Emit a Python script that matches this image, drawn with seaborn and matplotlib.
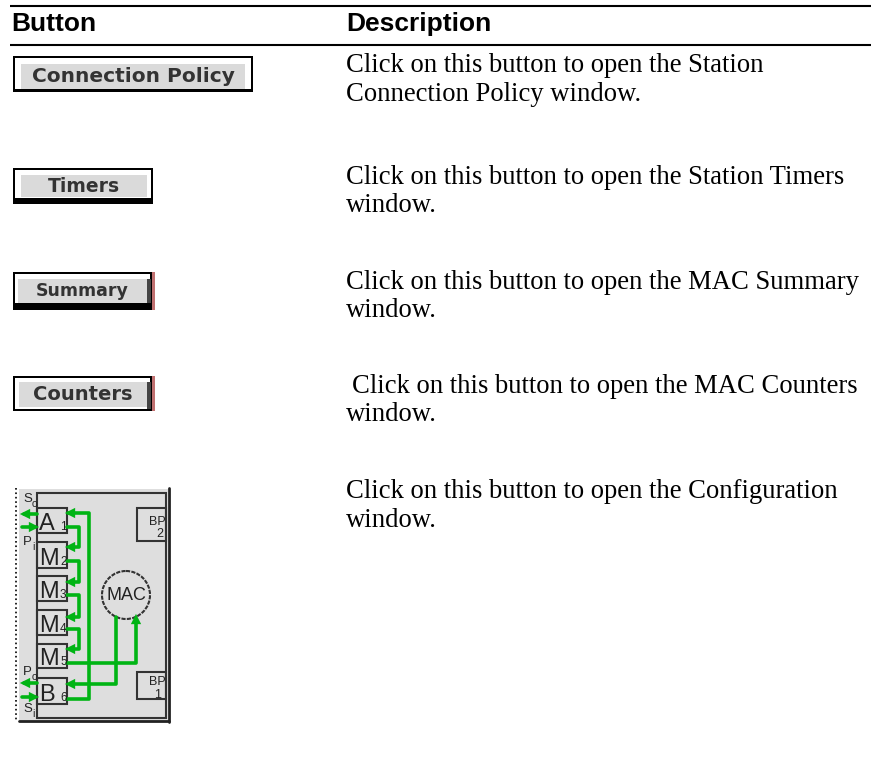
import matplotlib
matplotlib.use('Agg')
import pandas as pd
import matplotlib.pyplot as plt
import seaborn as sns
from matplotlib.patches import Rectangle, Circle

sns.set_theme(style='white')

header_names = ['Button', 'Description']
header_x = [11, 346]
rule_y = [6, 45]

desc_lines = ['Click on this button to open the Station', 'Connection Policy window.',
              'Click on this button to open the Station Timers', 'window.',
              'Click on this button to open the MAC Summary', 'window.',
              'Click on this button to open the MAC Counters', 'window.',
              'Click on this button to open the Configuration', 'window.']
desc_x = [346, 346, 346, 346, 346, 346, 352, 346, 346, 346]
desc_y = [72, 101, 184, 212, 289, 317, 393, 421, 498, 527]

btn_labels = ['Connection Policy', 'Timers', 'Summary', 'Counters']
btn_left = [13, 13, 13, 13]
btn_right = [253, 153, 152, 152]
btn_top = [56, 168, 272, 376]
btn_bottom = [92, 204, 310, 411]
btn_font = [14.5, 13.5, 12.5, 14]
btn_edge = [89, 198, 303, 409]
gray_left = [21, 21, 18, 19]
gray_right = [245, 147, 147, 147]
gray_top = [64, 175, 279, 382]
gray_bottom = [89, 197, 303, 407]
btn_red = [False, False, True, True]

box_names = ['A', 'M', 'M', 'M', 'M', 'B']
box_subs = ['1', '2', '3', '4', '5', '6']
box_top = [508, 542, 576, 610, 644, 678]
box_bottom = [533, 568, 601, 635, 668, 704]

# green wires of the diagram, one list per wire
wire_a = [(68, 513), (89, 513), (89, 699), (67, 699)]
wire_b = [(67, 527), (79, 527), (79, 547), (70, 547)]
wire_c = [(67, 561), (79, 561), (79, 582), (70, 582)]
wire_d = [(67, 595), (79, 595), (79, 617), (70, 617)]
wire_e = [(67, 629), (79, 629), (79, 649), (70, 649)]
wire_f = [(67, 663), (136, 663), (136, 620)]
wire_g = [(116, 617), (116, 684), (70, 684)]
wire_h = [(37, 514), (24, 514)]
wire_i = [(22, 527), (35, 527)]
wire_j = [(37, 683), (24, 683)]
wire_k = [(22, 697), (35, 697)]
wires = [wire_a, wire_b, wire_c, wire_d, wire_e, wire_f, wire_g, wire_h, wire_i, wire_j, wire_k]

head_x = [70, 70, 70, 70, 70, 136, 70, 25, 34, 25, 34]
head_y = [513, 547, 582, 617, 649, 619, 684, 514, 527, 683, 697]
head_dir = ['l', 'l', 'l', 'l', 'l', 'u', 'l', 'l', 'r', 'l', 'r']

port_names = ['S', 'P', 'P', 'S']
port_subs = ['o', 'i', 'o', 'i']
port_y = [502, 545, 675, 712]

green = '#00b414'
sans = 'Liberation Sans'

fig, ax = plt.subplots(figsize=(8.71, 7.74), dpi=100)
fig.subplots_adjust(0, 0, 1, 1)
ax.set_xlim(0, 871)
ax.set_ylim(774, 0)
ax.axis('off')

for y in rule_y:
    ax.plot([10, 871], [y, y], color='black', lw=1.5, solid_capstyle='butt')
for name, x in zip(header_names, header_x):
    ax.text(x, 31, name, family=sans, weight='bold', fontsize=19, color='black')
for line, x, y in zip(desc_lines, desc_x, desc_y):
    ax.text(x, y, line, family='Liberation Serif', fontsize=19.2, color='black')

# buttons
for i, label in enumerate(btn_labels):
    l, r, t, b = btn_left[i], btn_right[i], btn_top[i], btn_bottom[i]
    ax.add_patch(Rectangle((l, t), r - l, b - t, fc='black', ec='none'))
    ax.add_patch(Rectangle((l + 2, t + 2), r - l - 4, btn_edge[i] - t - 2, fc='white', ec='none'))
    ax.add_patch(Rectangle((gray_left[i], gray_top[i]), gray_right[i] - gray_left[i],
                           gray_bottom[i] - gray_top[i], fc='#dadada', ec='none'))
    if btn_red[i]:
        ax.add_patch(Rectangle((gray_right[i], gray_top[i]), 4, btn_edge[i] - gray_top[i], fc='#444444', ec='none'))
        ax.add_patch(Rectangle((r, t), 3, b - t, fc='#c07070', ec='none'))
    ax.text((gray_left[i] + gray_right[i]) / 2, (gray_top[i] + gray_bottom[i]) / 2, label,
            family='DejaVu Sans', weight='bold', fontsize=btn_font[i], color='#333333',
            ha='center', va='center')

# configuration diagram
ax.add_patch(Rectangle((19, 489), 149, 232, fc='#dedede', ec='none'))
ax.plot([16, 16], [488, 722], color='black', lw=1.2, ls=':')
ax.plot([168.5, 168.5], [488, 722], color='#222222', lw=2)
ax.plot([19, 169], [721, 721], color='#222222', lw=2)
ax.add_patch(Rectangle((37, 493), 129, 225, fc='none', ec='#333333', lw=1.5))
for name, sub, t, b in zip(box_names, box_subs, box_top, box_bottom):
    ax.add_patch(Rectangle((37, t), 30, b - t, fc='none', ec='#333333', lw=1.5))
    ax.text(39, b - 3, name, family=sans, fontsize=17, color='#222222')
    ax.text(60, b - 3, sub, family=sans, fontsize=8.5, color='#222222')
ax.add_patch(Rectangle((137, 508), 29, 33, fc='none', ec='#333333', lw=1.5))
ax.add_patch(Rectangle((137, 672), 29, 27, fc='none', ec='#333333', lw=1.5))
ax.text(157, 525, 'BP', family=sans, fontsize=9, color='#222222', ha='center')
ax.text(160, 537, '2', family=sans, fontsize=9, color='#222222', ha='center')
ax.text(157, 685, 'BP', family=sans, fontsize=9, color='#222222', ha='center')
ax.text(158, 698, '1', family=sans, fontsize=9, color='#222222', ha='center')
ax.add_patch(Circle((126, 595), 24, fc='none', ec='#333333', lw=1.5, ls=(0, (2, 0.6))))
ax.text(126, 595, 'MAC', family=sans, fontsize=13, color='#222222', ha='center', va='center')
for name, sub, y in zip(port_names, port_subs, port_y):
    ax.text(23, y, name, family=sans, fontsize=9.5, color='#222222')
    ax.text(32, y + 5, sub, family=sans, fontsize=7.5, color='#222222')

rows = []
for i, wire in enumerate(wires):
    for order, (x, y) in enumerate(wire):
        rows.append({'wire': i, 'order': order, 'x': x, 'y': y})
wire_df = pd.DataFrame(rows)
sns.lineplot(data=wire_df, x='x', y='y', units='wire', estimator=None, sort=False, color=green,
             lw=2.6, ax=ax, legend=False)
head_df = pd.DataFrame({'x': head_x, 'y': head_y, 'dir': head_dir})
sns.scatterplot(data=head_df, x='x', y='y', style='dir', markers={'l': '<', 'r': '>', 'u': '^'},
                color=green, s=55, linewidth=0, ax=ax, legend=False)
ax.set_xlim(0, 871)
ax.set_ylim(774, 0)

fig.savefig('out.png', dpi=100)
